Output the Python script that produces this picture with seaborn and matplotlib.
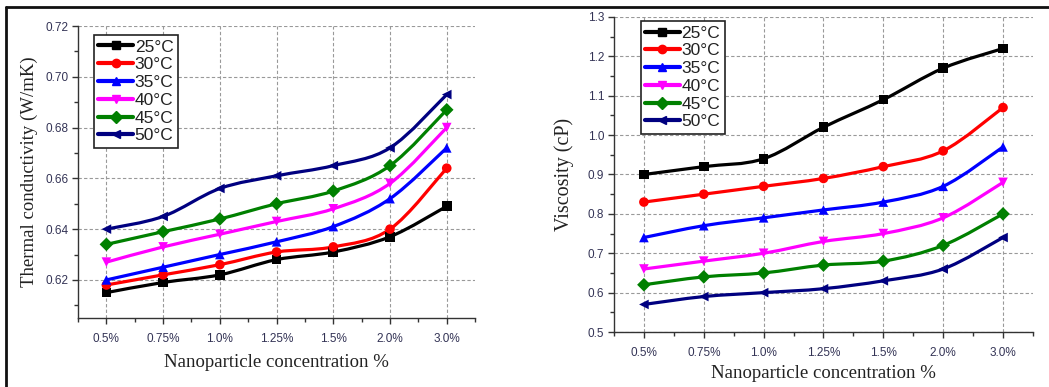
import matplotlib
matplotlib.use("Agg")
import matplotlib.pyplot as plt
import numpy as np
import pandas as pd
import seaborn as sns
from matplotlib.lines import Line2D
from matplotlib.path import Path
from matplotlib.patches import PathPatch
from matplotlib.ticker import MultipleLocator

# ---- data ----
concentrations = ['0.5%', '0.75%', '1.0%', '1.25%', '1.5%', '2.0%', '3.0%']
temperatures = ['25°C', '30°C', '35°C', '40°C', '45°C', '50°C']

tc_25 = [0.615, 0.619, 0.622, 0.628, 0.631, 0.637, 0.649]
tc_30 = [0.618, 0.622, 0.626, 0.631, 0.633, 0.640, 0.664]
tc_35 = [0.620, 0.625, 0.630, 0.635, 0.641, 0.652, 0.672]
tc_40 = [0.627, 0.633, 0.638, 0.643, 0.648, 0.658, 0.680]
tc_45 = [0.634, 0.639, 0.644, 0.650, 0.655, 0.665, 0.687]
tc_50 = [0.640, 0.645, 0.656, 0.661, 0.665, 0.672, 0.693]

visc_25 = [0.90, 0.92, 0.94, 1.02, 1.09, 1.17, 1.22]
visc_30 = [0.83, 0.85, 0.87, 0.89, 0.92, 0.96, 1.07]
visc_35 = [0.74, 0.77, 0.79, 0.81, 0.83, 0.87, 0.97]
visc_40 = [0.66, 0.68, 0.70, 0.73, 0.75, 0.79, 0.88]
visc_45 = [0.62, 0.64, 0.65, 0.67, 0.68, 0.72, 0.80]
visc_50 = [0.57, 0.59, 0.60, 0.61, 0.63, 0.66, 0.74]

colors = ['#000000', '#ff0000', '#0000ff', '#ff00ff', '#008000', '#000080']
marker_list = ['s', 'o', '^', 'v', 'D', '<']


def to_long(series):
    rows = []
    for temp, vals in zip(temperatures, series):
        for i, v in enumerate(vals):
            rows.append({'pos': i, 'value': v, 'temp': temp})
    return pd.DataFrame(rows)


def smooth_path(xs, ys):
    """Catmull-Rom kurve als Bezier-Pfad durch die Messpunkte"""
    pts = np.column_stack([xs, ys]).astype(float)
    ext = np.vstack([pts[0], pts, pts[-1]])
    verts = [pts[0]]
    codes = [Path.MOVETO]
    for i in range(1, len(ext) - 2):
        p0, p1, p2, p3 = ext[i - 1], ext[i], ext[i + 1], ext[i + 2]
        verts += [p1 + (p2 - p0) / 6, p2 - (p3 - p1) / 6, p2]
        codes += [Path.CURVE4] * 3
    return Path(verts, codes)


sns.set_style('ticks')
plt.rcParams['font.family'] = ['Liberation Sans', 'DejaVu Sans']

fig = plt.figure(figsize=(10.49, 3.87), dpi=100)
ax1 = fig.add_axes([0.0744, 0.1783, 0.3785, 0.7545])
ax2 = fig.add_axes([0.5853, 0.1421, 0.3994, 0.8140])


def draw_panel(ax, series, ylim, major, minor, ylabel, fmt, legend_anchor,
               xlabel_pad, ylabel_size):
    df = to_long(series)
    for temp, vals, c in zip(temperatures, series, colors):
        ax.add_patch(PathPatch(smooth_path(range(len(vals)), vals), facecolor='none',
                               edgecolor=c, lw=2.3, zorder=3))
    sns.scatterplot(data=df, x='pos', y='value', hue='temp', style='temp',
                    palette=colors, markers=marker_list, s=48, edgecolor='none',
                    legend=False, ax=ax, zorder=4)
    ax.set_xlim(-0.5, len(concentrations) - 0.5)
    ax.set_ylim(*ylim)
    ax.set_xticks(range(len(concentrations)))
    ax.set_xticklabels(concentrations)
    ax.xaxis.set_minor_locator(MultipleLocator(0.5))
    ax.yaxis.set_major_locator(MultipleLocator(major))
    ax.yaxis.set_minor_locator(MultipleLocator(minor))
    ax.yaxis.set_major_formatter(plt.FormatStrFormatter(fmt))
    ax.grid(True, which='major', linestyle=(0, (3, 2)), color='#999999', lw=0.8)
    ax.set_axisbelow(True)
    sns.despine(ax=ax)
    for sp in ['left', 'bottom']:
        ax.spines[sp].set_color('#333333')
        ax.spines[sp].set_linewidth(1.0)
    ax.tick_params(which='major', length=4, width=1, color='#333333',
                   labelsize=8.5, labelcolor='#333355', pad=3)
    ax.tick_params(which='minor', length=3, width=1, color='#333333')
    ax.tick_params(axis='x', pad=7)
    ax.set_xlabel('Nanoparticle concentration %', family='Liberation Serif',
                  fontsize=13.5, labelpad=xlabel_pad, color='#222222')
    ax.set_ylabel(ylabel, family='Liberation Serif', fontsize=ylabel_size, color='#222222')
    handles = [Line2D([], [], color=c, marker=m, lw=3, markersize=6)
               for c, m in zip(colors, marker_list)]
    leg = ax.legend(handles, temperatures, loc='upper left', bbox_to_anchor=legend_anchor,
                    fontsize=12.5, handlelength=2.0, handletextpad=0.1,
                    labelspacing=0.15, borderpad=0.25, borderaxespad=0,
                    frameon=True, fancybox=False, framealpha=1)
    leg.get_frame().set_edgecolor('#222222')
    leg.get_frame().set_linewidth(1.2)
    for t in leg.get_texts():
        t.set_color('#222222')


draw_panel(ax1, [tc_25, tc_30, tc_35, tc_40, tc_45, tc_50], (0.605, 0.72), 0.02, 0.01,
           'Thermal conductivity (W/mK)', '%.2f', (0.040, 0.969), 6, 13.5)
draw_panel(ax2, [visc_25, visc_30, visc_35, visc_40, visc_45, visc_50], (0.5, 1.3), 0.1, 0.05,
           'Viscosity (cP)', '%.1f', (0.064, 0.987), 4, 14.5)
ax1.yaxis.labelpad = 5
ax2.yaxis.labelpad = 10

# Rahmen oben und links
fig.add_artist(Line2D([6 / 1049, 1], [1 - 7 / 387, 1 - 7 / 387], transform=fig.transFigure,
                      color='#111111', lw=2))
fig.add_artist(Line2D([6 / 1049, 6 / 1049], [0, 1 - 7 / 387], transform=fig.transFigure,
                      color='#111111', lw=2))

fig.savefig('out.png', dpi=100)
